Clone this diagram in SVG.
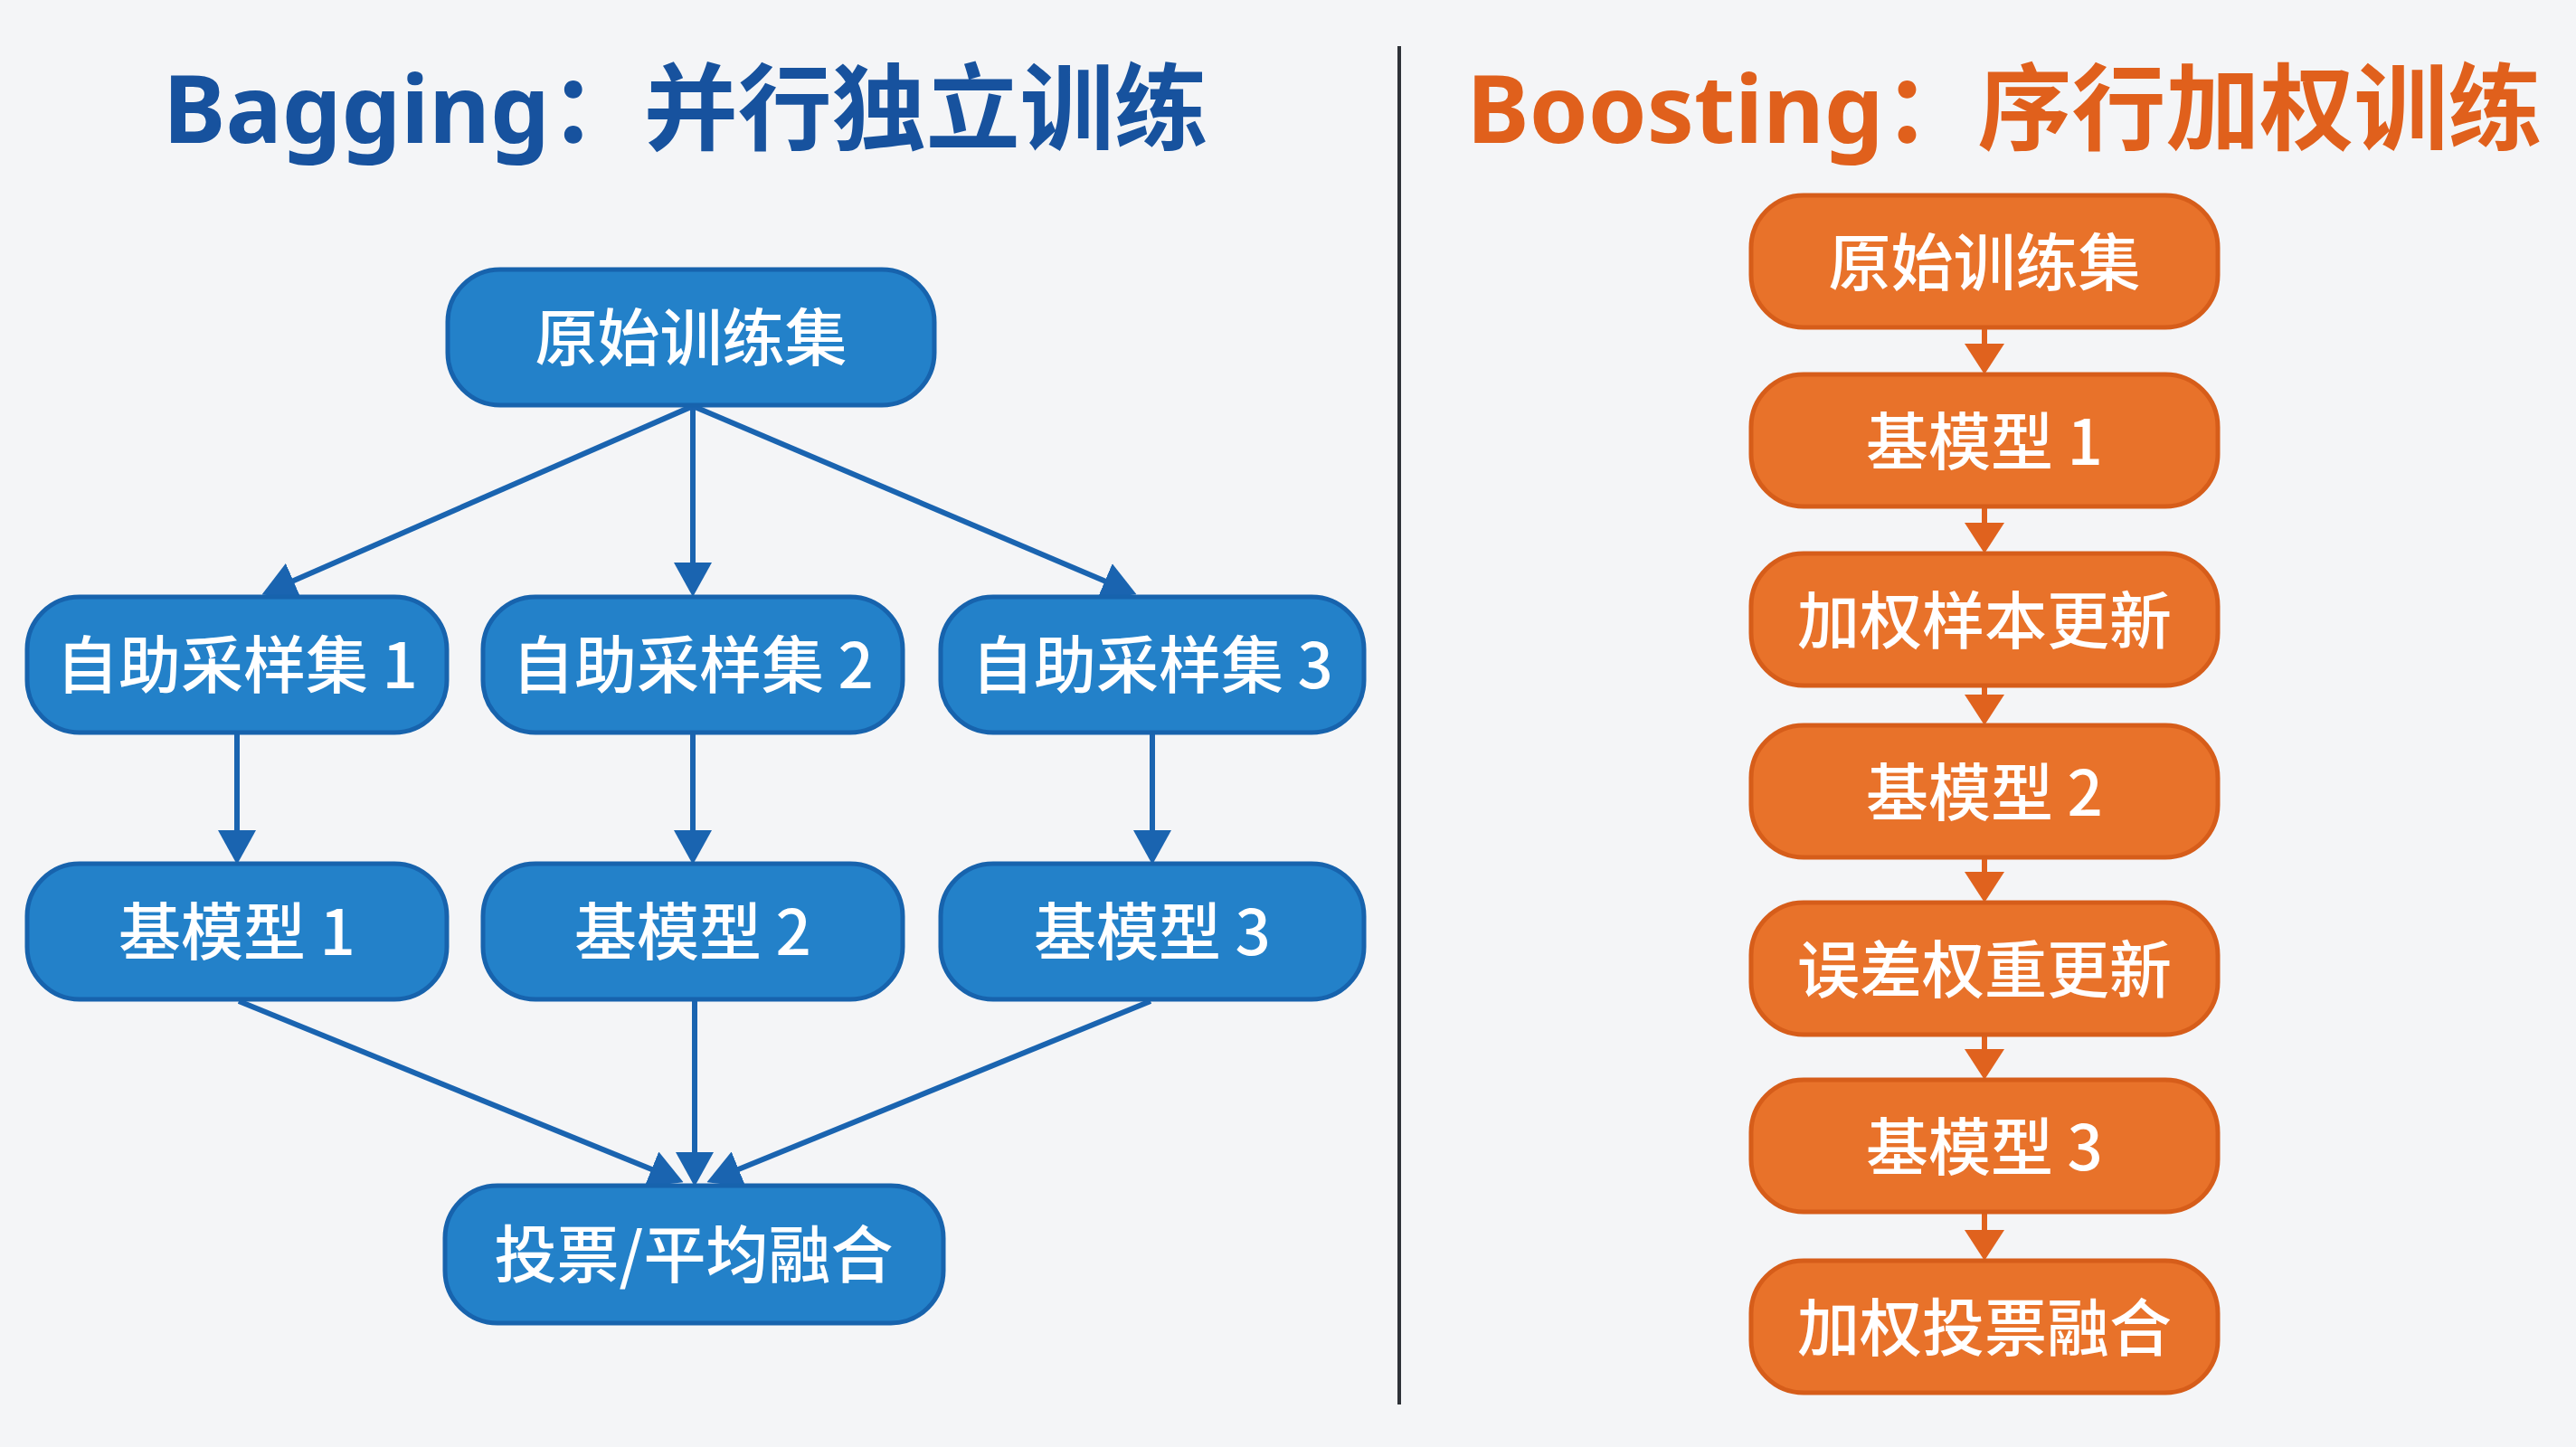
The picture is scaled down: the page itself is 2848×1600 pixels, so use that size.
<svg xmlns="http://www.w3.org/2000/svg" width="2848" height="1600" viewBox="0 0 2848 1600">
<style>
.bg{fill:#f4f5f7}
.title{font-family:"Noto Sans","Noto Sans CJK SC",sans-serif;font-weight:700;font-size:104px;text-anchor:middle}
.tb{fill:#17529e}
.to{fill:#e0601c}
.nb rect{fill:#2381c9;stroke:#1763ad;stroke-width:5}
.no rect{fill:#e8722a;stroke:#d65d1a;stroke-width:5}
.lbl{font-family:"Noto Sans CJK SC","Noto Sans",sans-serif;font-weight:500;font-size:69px;fill:#ffffff;text-anchor:middle;dominant-baseline:central}
.cb{stroke:#1a64b0;stroke-width:6;fill:none}
.co{stroke:#e0621e;stroke-width:6;fill:none}
</style>
<defs>
<marker id="ab" markerUnits="userSpaceOnUse" viewBox="0 0 38 42" refX="32" refY="21" markerWidth="38" markerHeight="42" orient="auto">
<path d="M0,0 L38,21 L0,42 z" fill="#1a64b0"/>
</marker>
<marker id="ao" markerUnits="userSpaceOnUse" viewBox="0 0 34 44" refX="29" refY="22" markerWidth="34" markerHeight="44" orient="auto">
<path d="M0,0 L34,22 L0,44 z" fill="#e0621e"/>
</marker>
</defs>
<rect class="bg" x="0" y="0" width="2848" height="1600"/>
<line x1="1547" y1="51" x2="1547" y2="1553" stroke="#2e3238" stroke-width="4"/>
<text class="title tb" x="758" y="158">Bagging：并行独立训练</text>
<text class="title to" x="2216" y="158">Boosting：序行加权训练</text>
<g id="connectors">
<path class="cb" d="M766,449 L295,655" marker-end="url(#ab)"/>
<path class="cb" d="M766,449 L766,654" marker-end="url(#ab)"/>
<path class="cb" d="M766,449 L1251,655" marker-end="url(#ab)"/>
<path class="cb" d="M262,811 L262,950" marker-end="url(#ab)"/>
<path class="cb" d="M766,811 L766,950" marker-end="url(#ab)"/>
<path class="cb" d="M1274,811 L1274,950" marker-end="url(#ab)"/>
<path class="cb" d="M264,1107 L750,1305" marker-end="url(#ab)"/>
<path class="cb" d="M768,1107 L768,1306" marker-end="url(#ab)"/>
<path class="cb" d="M1272,1107 L787,1305" marker-end="url(#ab)"/>
<path class="co" d="M2194,362 L2194,409" marker-end="url(#ao)"/>
<path class="co" d="M2194,560 L2194,607" marker-end="url(#ao)"/>
<path class="co" d="M2194,758 L2194,797" marker-end="url(#ao)"/>
<path class="co" d="M2194,948 L2194,993" marker-end="url(#ao)"/>
<path class="co" d="M2194,1144 L2194,1189" marker-end="url(#ao)"/>
<path class="co" d="M2194,1340 L2194,1389" marker-end="url(#ao)"/>
</g>
<g id="b-root" class="nb"><rect x="495" y="298" width="538" height="150" rx="58"/><text class="lbl" x="764" y="369">原始训练集</text></g>
<g id="b-s1" class="nb"><rect x="30" y="660" width="464" height="150" rx="58"/><text class="lbl" x="262" y="731">自助采样集 1</text></g>
<g id="b-s2" class="nb"><rect x="534" y="660" width="464" height="150" rx="58"/><text class="lbl" x="766" y="731">自助采样集 2</text></g>
<g id="b-s3" class="nb"><rect x="1040" y="660" width="468" height="150" rx="58"/><text class="lbl" x="1274" y="731">自助采样集 3</text></g>
<g id="b-m1" class="nb"><rect x="30" y="955" width="464" height="150" rx="58"/><text class="lbl" x="262" y="1026">基模型 1</text></g>
<g id="b-m2" class="nb"><rect x="534" y="955" width="464" height="150" rx="58"/><text class="lbl" x="766" y="1026">基模型 2</text></g>
<g id="b-m3" class="nb"><rect x="1040" y="955" width="468" height="150" rx="58"/><text class="lbl" x="1274" y="1026">基模型 3</text></g>
<g id="b-vote" class="nb"><rect x="492" y="1311" width="551" height="152" rx="58"/><text class="lbl" x="767" y="1383">投票/平均融合</text></g>
<g id="o-root" class="no"><rect x="1936" y="216" width="516" height="146" rx="58"/><text class="lbl" x="2194" y="286">原始训练集</text></g>
<g id="o-m1" class="no"><rect x="1936" y="414" width="516" height="146" rx="58"/><text class="lbl" x="2194" y="484">基模型 1</text></g>
<g id="o-w1" class="no"><rect x="1936" y="612" width="516" height="146" rx="58"/><text class="lbl" x="2194" y="682">加权样本更新</text></g>
<g id="o-m2" class="no"><rect x="1936" y="802" width="516" height="146" rx="58"/><text class="lbl" x="2194" y="872">基模型 2</text></g>
<g id="o-w2" class="no"><rect x="1936" y="998" width="516" height="146" rx="58"/><text class="lbl" x="2194" y="1068">误差权重更新</text></g>
<g id="o-m3" class="no"><rect x="1936" y="1194" width="516" height="146" rx="58"/><text class="lbl" x="2194" y="1264">基模型 3</text></g>
<g id="o-vote" class="no"><rect x="1936" y="1394" width="516" height="146" rx="58"/><text class="lbl" x="2194" y="1464">加权投票融合</text></g>
</svg>
